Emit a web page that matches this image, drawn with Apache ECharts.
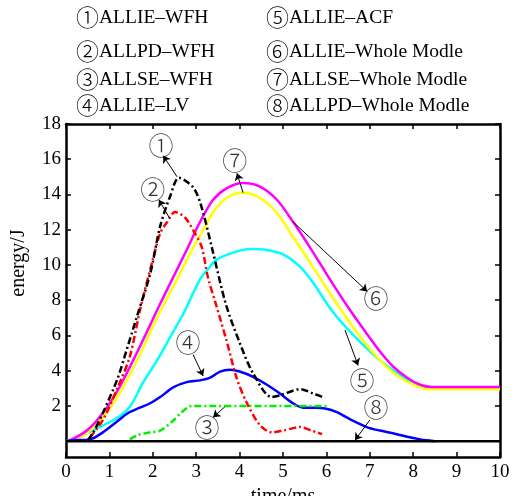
<!DOCTYPE html>
<html>
<head>
<meta charset="utf-8">
<script src="https://cdn.jsdelivr.net/npm/echarts@6/dist/echarts.min.js"></script>
<style>
html,body{margin:0;padding:0;background:#fff;}
#main{width:515px;height:496px;}
</style>
</head>
<body>
<div id="main"></div>
<script>
// tick labels
var xTicks = [0,1,2,3,4,5,6,7,8,9,10];
var yTicks = [2,4,6,8,10,12,14,16,18];

// legend lines (top text block): circled number + name
var legendNum = ['①','②','③','④','⑤','⑥','⑦','⑧'];
var legendName = ['ALLIE–WFH','ALLPD–WFH','ALLSE–WFH','ALLIE–LV','ALLIE–ACF','ALLIE–Whole Modle','ALLSE–Whole Modle','ALLPD–Whole Modle'];

// series values [time/ms, energy/J]
var allieWfh = [[0.5,0.05],[0.62,0.45],[0.85,1.6],[1.18,3.5],[1.4,5.2],[1.65,7.2],[1.94,9.5],[2.17,12.2],[2.4,13.9],[2.6,14.95],[2.93,14.4],[3.11,13.4],[3.36,11.0],[3.68,7.8],[4.0,5.6],[4.3,3.9],[4.74,2.5],[4.93,2.6],[5.4,2.95],[5.7,2.7],[5.97,2.45]];
var allpdWfh = [[0.55,0.2],[0.85,1.2],[1.2,3.1],[1.47,4.8],[1.72,7.6],[2.0,10.3],[2.17,11.8],[2.32,12.4],[2.51,13.0],[2.74,12.7],[2.97,11.8],[3.13,11.0],[3.27,9.3],[3.45,7.8],[3.7,5.7],[3.93,3.6],[4.17,2.15],[4.47,0.9],[4.74,0.5],[5.0,0.6],[5.39,0.8],[5.66,0.6],[5.9,0.4]];
var allseWfh = [[1.47,0.1],[1.66,0.35],[1.94,0.5],[2.17,0.6],[2.44,1.1],[2.67,1.65],[2.9,2.0],[6.0,2.0]];
var allieLv = [[0,0],[0.16,0.05],[0.55,0.1],[0.85,0.5],[1.17,1.1],[1.43,1.6],[1.7,1.9],[1.94,2.15],[2.17,2.5],[2.47,3.05],[2.78,3.35],[3.09,3.45],[3.32,3.6],[3.55,3.95],[3.78,4.05],[4.0,3.95],[4.31,3.65],[4.63,3.2],[4.93,2.7],[5.23,2.15],[5.46,1.9],[5.74,1.9],[5.97,1.85],[6.24,1.65],[6.5,1.3],[6.93,0.8],[7.23,0.6],[7.53,0.45],[7.86,0.25],[8.16,0.1],[8.3,0.05],[8.5,0]];
var allieAcf = [[0,0],[0.1,0.05],[0.48,0.45],[0.85,0.9],[1.17,1.3],[1.47,1.95],[1.77,3.3],[2.1,4.6],[2.4,5.9],[2.74,7.4],[3.09,9.2],[3.32,9.9],[3.47,10.3],[3.85,10.7],[4.24,10.9],[4.63,10.85],[5.0,10.6],[5.39,9.9],[5.69,9.0],[6.04,7.7],[6.31,6.85],[6.77,5.65],[7.23,4.6],[7.7,3.75],[8.09,3.2],[8.39,3.0],[10,3.0]];
var allieWhole = [[0,0],[0.1,0.05],[0.48,0.6],[0.85,1.6],[1.24,3.1],[1.63,5.0],[1.94,6.6],[2.15,7.7],[2.47,9.3],[2.78,10.85],[3.09,12.45],[3.39,13.7],[3.7,14.35],[4.08,14.65],[4.47,14.45],[4.86,13.7],[5.23,12.45],[5.62,11.0],[6.0,9.5],[6.31,8.3],[6.61,7.2],[6.93,6.1],[7.23,5.1],[7.53,4.25],[7.86,3.6],[8.16,3.2],[8.43,3.08],[10,3.08]];
var allseWhole = [[0,0],[0.2,0.05],[0.5,0.5],[0.9,1.5],[1.3,3.0],[1.7,4.9],[2.0,6.5],[2.22,7.6],[2.55,9.15],[2.9,10.85],[3.2,12.15],[3.39,13.0],[3.7,13.8],[4.08,14.1],[4.47,13.8],[4.86,12.95],[5.23,11.6],[5.62,10.15],[6.0,8.7],[6.31,7.55],[6.77,5.95],[7.23,4.6],[7.7,3.6],[8.16,3.05],[8.39,2.95],[10,2.95]];
var allpdWhole = [[0,0],[10,0]];

// annotations: circled number, label position, arrow start, arrow end
var annoText = ['①','②','③','④','⑤','⑥','⑦','⑧'];
var annoPos = [[2.19,16.8],[2.0,14.3],[3.25,0.8],[2.81,5.6],[6.82,3.45],[7.14,8.1],[3.89,15.95],[7.14,1.9]];
var arrowFrom = [[2.56,15.0],[2.4,12.6],[3.66,1.95],[2.93,4.9],[6.43,6.3],[5.23,12.45],[4.08,14.1],[7.0,1.2]];
var arrowTo = [[2.24,16.2],[2.14,13.7],[3.39,1.35],[3.16,3.7],[6.73,4.3],[6.94,8.5],[3.94,15.2],[6.66,0.05]];

var serif = "'Liberation Serif','DejaVu Serif',serif";
var circ = "'Noto Sans CJK SC','DejaVu Sans',sans-serif";
var dashDot = [7,3,2,3];

var chart = echarts.init(document.getElementById('main'));

var graphics = [];
var rowTop = [6,40,68,94];
for (var i = 0; i < 8; i++) {
    graphics.push({
        type: 'text',
        left: i < 4 ? 76 : 266,
        top: rowTop[i % 4],
        style: {
            text: '{c|' + legendNum[i] + '}{t|' + legendName[i] + '}',
            rich: {
                c: {font: '300 23px ' + circ, fill: '#000', verticalAlign: 'middle'},
                t: {font: '19.5px ' + serif, fill: '#000', verticalAlign: 'middle'}
            }
        }
    });
}
// y axis title
graphics.push({
    type: 'text',
    x: 19, y: 263,
    rotation: Math.PI / 2,
    style: {text: 'energy/J', font: '20px ' + serif, fill: '#000', align: 'center', verticalAlign: 'middle'}
});

function lineSeries(name, data, color, type, width) {
    return {
        name: name,
        type: 'line',
        data: data,
        smooth: 0.3,
        showSymbol: false,
        symbol: 'none',
        lineStyle: {color: color, width: width, type: type},
        z: 3
    };
}

var arrows = [];
for (var k = 0; k < arrowFrom.length; k++) {
    arrows.push([{coord: arrowFrom[k]}, {coord: arrowTo[k]}]);
}

var axisLineStyle = {color:'#000', width:2.5};
var tickStyle = {color:'#000', width:1.5};

chart.setOption({
    animation: false,
    backgroundColor: '#fff',
    graphic: graphics,
    grid: {left:66, right:15, top:124, bottom:39, containLabel:false, outerBoundsMode:'none'},
    xAxis: [{
        type: 'value',
        min: 0, max: 10, interval: 1,
        name: 'time/ms',
        nameLocation: 'middle',
        nameGap: 30,
        nameTextStyle: {fontFamily: serif, fontSize: 20, color:'#000'},
        axisLine: {show:true, onZero:false, lineStyle: axisLineStyle},
        axisTick: {show:true, inside:true, length:5, lineStyle: tickStyle},
        axisLabel: {fontFamily: serif, fontSize: 19, color:'#000', margin:6},
        splitLine: {show:false}
    }, {
        type: 'value',
        position: 'top',
        min: 0, max: 10, interval: 1,
        axisLine: {show:true, onZero:false, lineStyle: axisLineStyle},
        axisTick: {show:true, inside:true, length:5, lineStyle: tickStyle},
        axisLabel: {show:false},
        splitLine: {show:false}
    }],
    yAxis: [{
        type: 'value',
        min: -0.9, max: 18,
        axisLine: {show:true, onZero:false, lineStyle: axisLineStyle},
        axisTick: {show:true, inside:true, length:5, customValues: yTicks, lineStyle: tickStyle},
        axisLabel: {fontFamily: serif, fontSize: 19, color:'#000', margin:5, customValues: yTicks},
        splitLine: {show:false}
    }, {
        type: 'value',
        position: 'right',
        min: -0.9, max: 18,
        axisLine: {show:true, onZero:false, lineStyle: axisLineStyle},
        axisTick: {show:true, inside:true, length:5, customValues: yTicks, lineStyle: tickStyle},
        axisLabel: {show:false, customValues: yTicks},
        splitLine: {show:false}
    }],
    series: [
        lineSeries('ALLIE-ACF', allieAcf, '#00ffff', 'solid', 2.5),
        lineSeries('ALLSE-Whole Modle', allseWhole, '#ffff00', 'solid', 2.5),
        lineSeries('ALLIE-Whole Modle', allieWhole, '#ff00ff', 'solid', 2.5),
        lineSeries('ALLIE-LV', allieLv, '#0000ff', 'solid', 2.5),
        lineSeries('ALLSE-WFH', allseWfh, '#00ee00', dashDot, 2.5),
        lineSeries('ALLPD-WFH', allpdWfh, '#ff0000', dashDot, 2.5),
        lineSeries('ALLIE-WFH', allieWfh, '#000000', dashDot, 2.5),
        lineSeries('ALLPD-Whole Modle', allpdWhole, '#000000', 'solid', 2.5),
        {
            name: 'annotations',
            type: 'scatter',
            data: annoPos,
            symbolSize: 0,
            silent: true,
            z: 5,
            label: {
                show: true,
                position: 'inside',
                formatter: function (p) { return annoText[p.dataIndex]; },
                fontFamily: circ,
                fontWeight: 300,
                fontSize: 25,
                color: '#000'
            },
            markLine: {
                silent: true,
                symbol: ['none', 'arrow'],
                symbolSize: 7,
                label: {show:false},
                lineStyle: {color:'#000', width:1, type:'solid'},
                data: arrows
            }
        }
    ]
});
</script>
</body>
</html>
